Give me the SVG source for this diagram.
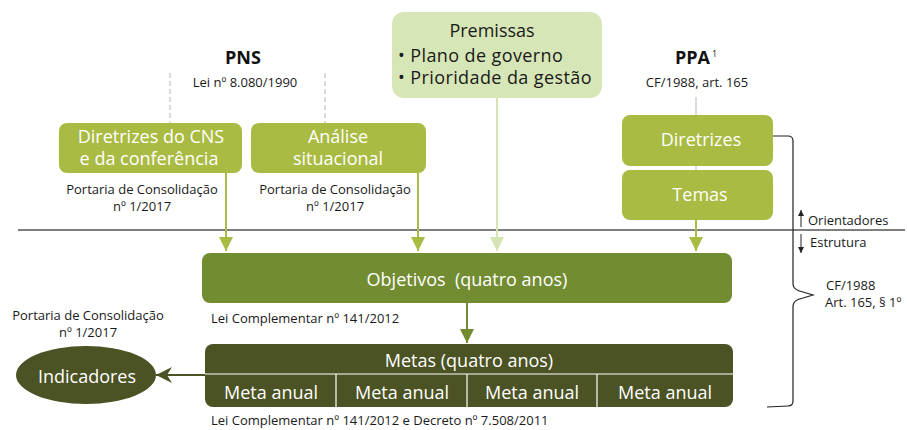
<svg xmlns="http://www.w3.org/2000/svg" width="907" height="430" viewBox="0 0 907 430">
<defs>
<style>
text{font-family:"Open Sans","Noto Sans",sans-serif;}
.w{fill:#ffffff;font-size:18px;}
.s{fill:#1a1a1a;font-size:13px;}
.b{fill:#111;font-size:18px;font-weight:bold;}
.lg{fill:#a9bb42;}
.dash{stroke:#b8b8b8;stroke-width:1;stroke-dasharray:5,3;fill:none;}
</style>
<marker id="ag" viewBox="0 0 14 14" refX="14" refY="7" markerWidth="14" markerHeight="14" orient="auto" markerUnits="userSpaceOnUse"><path d="M0,0 L14,7 L0,14 Z" fill="#a9bb42"/></marker>
<marker id="al" viewBox="0 0 14 14" refX="14" refY="7" markerWidth="14" markerHeight="14" orient="auto" markerUnits="userSpaceOnUse"><path d="M0,0 L14,7 L0,14 Z" fill="#d5e4b3"/></marker>
<marker id="am" viewBox="0 0 14 14" refX="14" refY="7" markerWidth="14" markerHeight="14" orient="auto" markerUnits="userSpaceOnUse"><path d="M0,0 L14,7 L0,14 Z" fill="#728c32"/></marker>
<marker id="ad" viewBox="0 0 16 16" refX="16" refY="8" markerWidth="16" markerHeight="16" orient="auto" markerUnits="userSpaceOnUse"><path d="M0,0 L16,8 L0,16 L5,8 Z" fill="#4b5223"/></marker>
<marker id="ak" viewBox="0 0 6 6" refX="6" refY="3" markerWidth="6" markerHeight="6" orient="auto" markerUnits="userSpaceOnUse"><path d="M0,0 L6,3 L0,6 Z" fill="#222"/></marker>
</defs>
<rect width="907" height="430" fill="#ffffff"/>

<g id="dividers">
<line x1="18" y1="230" x2="905" y2="230" stroke="#000" stroke-width="1.2"/>
</g>

<g id="connectors">
<line class="dash" x1="170" y1="73" x2="170" y2="123"/>
<line class="dash" x1="325" y1="73" x2="325" y2="123"/>
<line x1="696" y1="97" x2="696" y2="170" stroke="#b8b8b8" stroke-width="1"/>
<line x1="226" y1="173" x2="226" y2="251" stroke="#a9bb42" stroke-width="2" marker-end="url(#ag)"/>
<line x1="418" y1="173" x2="418" y2="251" stroke="#a9bb42" stroke-width="2" marker-end="url(#ag)"/>
<line x1="497" y1="98" x2="497" y2="251" stroke="#d5e4b3" stroke-width="2" marker-end="url(#al)"/>
<line x1="696" y1="220" x2="696" y2="251" stroke="#a9bb42" stroke-width="2" marker-end="url(#ag)"/>
<line x1="467" y1="303" x2="467" y2="343" stroke="#728c32" stroke-width="2" marker-end="url(#am)"/>
<line x1="205" y1="375" x2="156" y2="375" stroke="#4b5223" stroke-width="2" marker-end="url(#ad)"/>
<line x1="801" y1="227" x2="801" y2="210" stroke="#222" stroke-width="1" marker-end="url(#ak)"/>
<line x1="801" y1="234" x2="801" y2="253" stroke="#222" stroke-width="1" marker-end="url(#ak)"/>
<path d="M773,136 L788,136 Q793,136 793,141 L793,284 Q793,290 803,292 L813,295 L803,298 Q793,300 793,306 L793,401 Q793,406 788,406 L767,407" fill="none" stroke="#222" stroke-width="1.2"/>
</g>

<g id="pns">
<text class="b" x="243" y="64" text-anchor="middle">PNS</text>
<text class="s" x="245" y="87" text-anchor="middle">Lei nº 8.080/1990</text>
</g>

<g id="ppa">
<text class="b" x="696" y="64" text-anchor="middle">PPA<tspan font-size="9" font-weight="normal" dy="-7" dx="2">1</tspan></text>
<text class="s" x="697" y="87" text-anchor="middle">CF/1988, art. 165</text>
</g>

<g id="premissas">
<rect x="392" y="12" width="210" height="86" rx="12" fill="#d7e6b7"/>
<text x="492" y="37" text-anchor="middle" fill="#1a1a1a" font-size="18">Premissas</text>
<text x="398" y="62" fill="#1a1a1a" font-size="18" letter-spacing="0.4">• Plano de governo</text>
<text x="398" y="84" fill="#1a1a1a" font-size="18" letter-spacing="0.4">• Prioridade da gestão</text>
</g>

<g id="diretrizes-cns">
<rect class="lg" x="59" y="123" width="183" height="50" rx="8"/>
<text class="w" x="151" y="143" text-anchor="middle" font-size="17">Diretrizes do CNS</text>
<text class="w" x="149" y="165" text-anchor="middle" font-size="17">e da conferência</text>
<text class="s" x="142" y="194" text-anchor="middle">Portaria de Consolidação</text>
<text class="s" x="142" y="211" text-anchor="middle">nº 1/2017</text>
</g>

<g id="analise">
<rect class="lg" x="251" y="123" width="175" height="50" rx="8"/>
<text class="w" x="338" y="143" text-anchor="middle">Análise</text>
<text class="w" x="338" y="165" text-anchor="middle">situacional</text>
<text class="s" x="335" y="194" text-anchor="middle">Portaria de Consolidação</text>
<text class="s" x="335" y="211" text-anchor="middle">nº 1/2017</text>
</g>

<g id="diretrizes-ppa">
<rect class="lg" x="622" y="115" width="151" height="51" rx="8"/>
<text class="w" x="701" y="146" text-anchor="middle">Diretrizes</text>
</g>

<g id="temas">
<rect class="lg" x="622" y="170" width="151" height="50" rx="8"/>
<text class="w" x="700" y="201" text-anchor="middle">Temas</text>
</g>

<g id="legend">
<text class="s" x="808" y="225">Orientadores</text>
<text class="s" x="810" y="247">Estrutura</text>
<text class="s" x="826" y="290">CF/1988</text>
<text class="s" x="825" y="307">Art. 165, § 1º</text>
</g>

<g id="objetivos">
<rect x="202" y="253" width="530" height="50" rx="8" fill="#728c32"/>
<text class="w" x="467" y="286" text-anchor="middle" font-size="18.5" xml:space="preserve">Objetivos  (quatro anos)</text>
<text class="s" x="211" y="323">Lei Complementar nº 141/2012</text>
</g>

<g id="metas">
<rect x="205" y="344" width="528" height="63" rx="8" fill="#4b5223"/>
<line x1="205" y1="374" x2="733" y2="374" stroke="#ffffff" stroke-width="1.2"/>
<line x1="336" y1="374" x2="336" y2="407" stroke="#ffffff" stroke-width="1.2"/>
<line x1="467" y1="374" x2="467" y2="407" stroke="#ffffff" stroke-width="1.2"/>
<line x1="597" y1="374" x2="597" y2="407" stroke="#ffffff" stroke-width="1.2"/>
<text class="w" x="469" y="367" text-anchor="middle" font-size="18.5">Metas (quatro anos)</text>
<text class="w" x="271" y="399" text-anchor="middle" font-size="18.5">Meta anual</text>
<text class="w" x="402" y="399" text-anchor="middle" font-size="18.5">Meta anual</text>
<text class="w" x="532" y="399" text-anchor="middle" font-size="18.5">Meta anual</text>
<text class="w" x="665" y="399" text-anchor="middle" font-size="18.5">Meta anual</text>
<text class="s" x="211" y="425">Lei Complementar nº 141/2012 e Decreto nº 7.508/2011</text>
</g>

<g id="indicadores">
<ellipse cx="86" cy="375" rx="70" ry="29" fill="#4b5223"/>
<text class="w" x="87" y="383" text-anchor="middle" font-size="19">Indicadores</text>
<text class="s" x="88" y="320" text-anchor="middle">Portaria de Consolidação</text>
<text class="s" x="88" y="337" text-anchor="middle">nº 1/2017</text>
</g>
</svg>
